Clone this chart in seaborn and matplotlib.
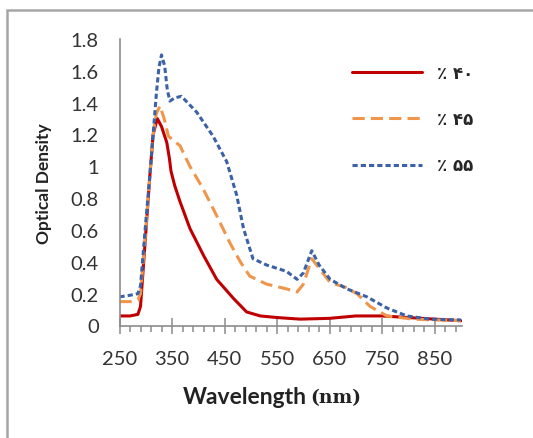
import matplotlib
matplotlib.use("Agg")
import matplotlib.pyplot as plt
import seaborn as sns
import pandas as pd
from matplotlib.patches import Rectangle

# ---- data ----
series_names = ["٪ ۴۰", "٪ ۴۵", "٪ ۵۵"]

wl_40 = [250, 270, 285, 290, 295, 300, 308, 314, 322, 330, 340, 345, 348, 355, 365,
         384, 410, 435, 467, 492, 518, 550, 594, 650, 700, 750, 800, 850, 900]
od_40 = [0.06, 0.06, 0.07, 0.12, 0.35, 0.58, 0.95, 1.20, 1.30, 1.25, 1.15, 1.05, 0.97,
         0.88, 0.78, 0.61, 0.44, 0.29, 0.17, 0.085, 0.06, 0.05, 0.04, 0.045, 0.06, 0.06,
         0.05, 0.04, 0.03]

wl_45 = [250, 270, 285, 290, 295, 300, 308, 314, 320, 327, 335, 343, 350, 365, 384,
         409, 435, 460, 480, 498, 530, 568, 588, 600, 616, 630, 651, 680, 702, 727,
         759, 809, 850, 900]
od_45 = [0.15, 0.15, 0.16, 0.20, 0.40, 0.60, 0.95, 1.20, 1.33, 1.38, 1.30, 1.19, 1.17,
         1.13, 1.00, 0.86, 0.69, 0.52, 0.40, 0.31, 0.26, 0.23, 0.21, 0.26, 0.42, 0.36,
         0.27, 0.24, 0.20, 0.12, 0.06, 0.04, 0.035, 0.03]

wl_55 = [250, 270, 285, 290, 295, 300, 308, 314, 320, 325, 330, 336, 341, 346, 355,
         368, 397, 428, 454, 473, 486, 504, 530, 568, 588, 600, 616, 630, 651, 683,
         721, 759, 797, 841, 900]
od_55 = [0.18, 0.19, 0.20, 0.25, 0.45, 0.65, 0.95, 1.20, 1.45, 1.62, 1.70, 1.63, 1.48,
         1.41, 1.43, 1.44, 1.34, 1.19, 1.03, 0.82, 0.61, 0.42, 0.38, 0.34, 0.29, 0.33,
         0.47, 0.38, 0.29, 0.23, 0.18, 0.11, 0.06, 0.04, 0.035]

x_ticks = [250, 350, 450, 550, 650, 750, 850]
y_ticks = [0, 0.2, 0.4, 0.6, 0.8, 1, 1.2, 1.4, 1.6, 1.8]
y_tick_labels = ["0", "0.2", "0.4", "0.6", "0.8", "1", "1.2", "1.4", "1.6", "1.8"]

colors = {series_names[0]: "#C00000", series_names[1]: "#F0964A", series_names[2]: "#3B62A6"}
dashes = {series_names[0]: "", series_names[1]: (4, 2), series_names[2]: (1.7, 1.0)}

df = pd.concat([
    pd.DataFrame({"wl": wl_40, "od": od_40, "s": series_names[0]}),
    pd.DataFrame({"wl": wl_45, "od": od_45, "s": series_names[1]}),
    pd.DataFrame({"wl": wl_55, "od": od_55, "s": series_names[2]}),
])

sns.set_theme(style="white")
plt.rcParams["font.family"] = ["Lato", "DejaVu Sans"]

W, H = 533, 439
fig = plt.figure(figsize=(W / 100, H / 100), dpi=100)
ax = fig.add_axes([119.5 / W, 1 - 326.5 / H, (462 - 119.5) / W, (326.5 - 40) / H])

sns.lineplot(data=df, x="wl", y="od", hue="s", style="s", palette=colors,
             dashes=dashes, linewidth=2.2, ax=ax, sort=True, estimator=None)

ax.set_xlim(250, 902)
ax.set_ylim(0, 1.8)
ax.set_xticks(x_ticks)
ax.set_xticklabels([str(v) for v in x_ticks])
ax.set_xticks(list(range(270, 901, 20)), minor=True)
ax.set_yticks(y_ticks)
ax.set_yticklabels(y_tick_labels)

for s in ["top", "right"]:
    ax.spines[s].set_visible(False)
for s in ["left", "bottom"]:
    ax.spines[s].set_color("#8C8C8C")
    ax.spines[s].set_linewidth(1.2)

ax.tick_params(axis="x", which="major", direction="inout", length=11, width=1.1,
               color="#8C8C8C", labelsize=14.5, pad=12, bottom=True)
ax.tick_params(axis="x", which="minor", direction="out", length=4.5, width=1.1,
               color="#8C8C8C", bottom=True)
ax.tick_params(axis="y", which="both", length=0, labelsize=14.5, pad=15)
for lab in ax.get_xticklabels() + ax.get_yticklabels():
    lab.set_color("#333333")

ax.set_xlabel("")
ax.set_ylabel("Optical Density", fontsize=12.5, fontweight="bold", color="#222222", labelpad=13)
fig.text(245 / W, 1 - 398 / H, "Wavelength", fontsize=16.5, fontweight="bold",
         color="#222222", ha="center", va="center")
fig.text(336 / W, 1 - 398 / H, "(nm)", fontsize=13.5, fontweight="bold",
         family=["DejaVu Serif"], color="#222222", ha="center", va="center")

handles, labels = ax.get_legend_handles_labels()
leg = ax.legend(handles, labels, loc="upper left",
                bbox_to_anchor=((345 - 119.5) / (462 - 119.5), 1 - (58 - 40) / (326.5 - 40)),
                frameon=False, handlelength=4.2, handletextpad=0.9, labelspacing=1.7,
                borderaxespad=0, prop={"family": ["DejaVu Sans"], "size": 12, "weight": "bold"})
for h in leg.get_lines():
    h.set_linewidth(2.2)

fig.patches.append(Rectangle((7 / W, -0.1), 1.2, 1 - 11 / H + 0.1, transform=fig.transFigure,
                             fill=False, edgecolor="#A6A6A6", linewidth=1.8))

fig.savefig("out.png", dpi=100)
